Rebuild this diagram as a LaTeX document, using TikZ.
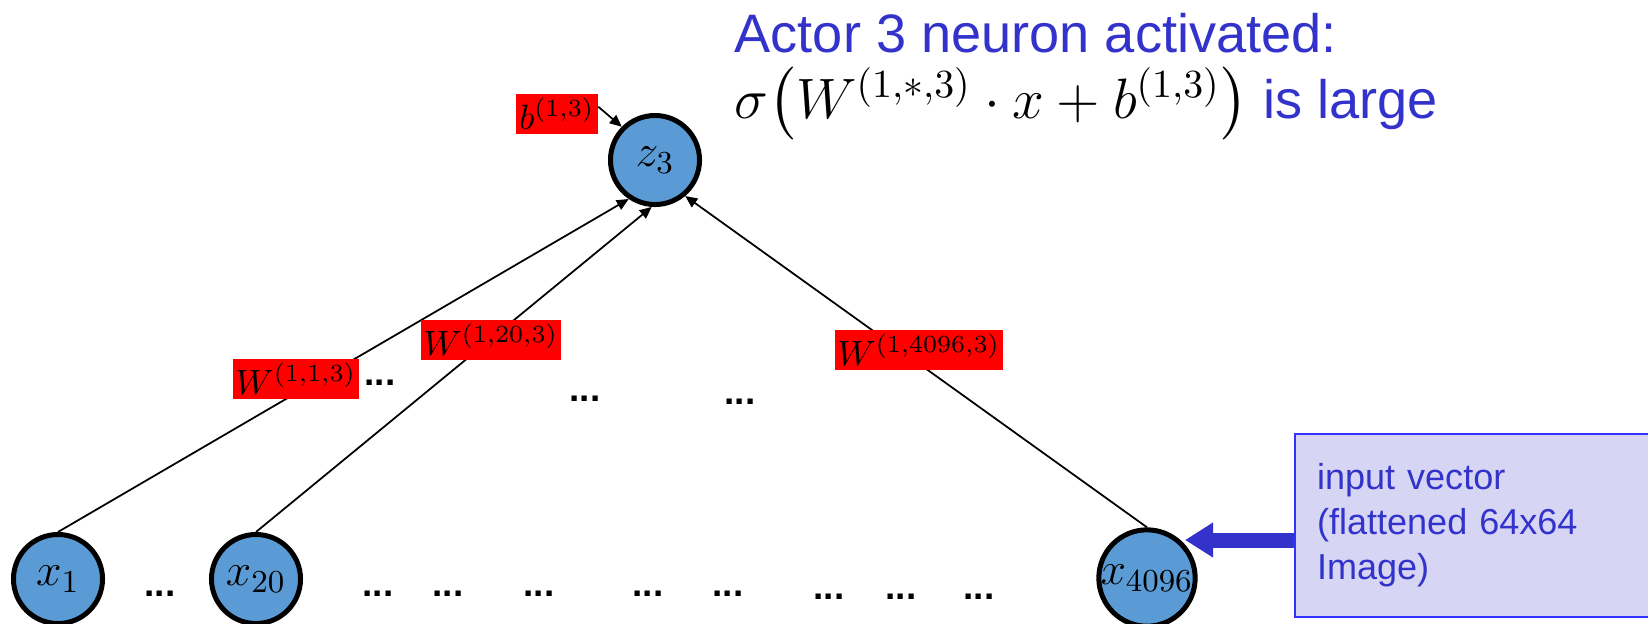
\RequirePackage{fix-cm}
\documentclass[tikz,border=0pt]{standalone}
\usepackage{amsmath}
\usepackage[no-math]{fontspec}
\setmainfont{Liberation Sans}
\usetikzlibrary{arrows.meta}
\definecolor{neuronblue}{RGB}{91,155,213}
\definecolor{inkblue}{RGB}{51,51,204}
\definecolor{notefill}{RGB}{214,214,244}
\definecolor{noteline}{RGB}{51,51,255}
\tikzset{
  neuron/.style={
    shape = circle,
    draw,
    fill = neuronblue,
    line width = 0.05cm,
    minimum size = 0.89cm,
    inner sep = 0,
    font = \fontsize{13}{15}\selectfont
  },
  weight/.style={
    fill = red,
    inner xsep = 0.03cm,
    inner ysep = 0,
    minimum height = 0.4cm,
    font = \fontsize{10}{12}\selectfont
  },
  edge/.style={
    line width = 0.5pt,
    -{Triangle[length=3.4pt,width=3pt]}
  },
  etc/.style={
    inner sep = 0,
    font = \fontsize{10.5}{12}\selectfont\bfseries
  },
  headline/.style={
    inner sep = 0,
    anchor = base west,
    text = inkblue,
    font = \fontsize{15.4}{18}\selectfont
  },
  note/.style={
    draw = noteline,
    fill = notefill,
    line width = 0.02cm,
    anchor = north west,
    minimum height = 1.83cm,
    text width = 3.26cm,
    inner xsep = 0.22cm,
    align = left,
    text = inkblue,
    font = \fontsize{10.25}{12.8}\selectfont
  },
  feed/.style={
    draw = inkblue,
    line width = 0.15cm,
    -{Triangle[length=0.28cm,width=0.33cm]}
  }
}

\begin{document}
\begin{tikzpicture}[x=0.01cm,y=-0.01cm]
            \useasboundingbox (0,0) rectangle (1648,623);
            \node[neuron] (x1) at (58,579) {$x_1$};
            \node[neuron] (x20) at (256,579) {$x_{20}$};
            \node[neuron] (x4096) at (1147,578) {$x_{4096}$};
            \node[neuron] (z3) at (655,160) {$z_3$};
            \draw[edge] (x1.north) -- (z3.236);
            \draw[edge] (x20.north) -- (z3.266);
            \draw[edge] (x4096.north) -- (z3.310);
            \node[weight] (w1) at (296,379) {$W^{(1,1,3)}$};
            \node[weight] (w20) at (491,340) {$W^{(1,20,3)}$};
            \node[weight] (w4096) at (919,350) {$W^{(1,4096,3)}$};
            \node[weight] (b) at (557,114) {$b^{(1,3)}$};
            \draw[edge] (b.10) -- (z3.135);
            \foreach \px/\py [count=\i] in {380/383, 585/399, 740/402, 160/594, 378/594,
                448/594, 539/594, 648/594, 728/594, 829/597, 901/597, 979/597}
              {\node[etc] (d\i) at (\px,\py) {...};}
            \node[headline] (head) at (734,52) {Actor 3 neuron activated:};
            \node[headline] (formula) at (734,118)
              {{\fontsize{16.2}{18}\selectfont\color{black}$\sigma\bigl(W^{(1,*,3)}\cdot x+b^{(1,3)}\bigr)$} is large};
            \node[note] (inp) at (1294,433) {input vector\\(flattened 64x64\\Image)};
            \coordinate (tip) at (1185,540);
            \draw[feed] (inp.west |- tip) -- (tip);
\end{tikzpicture}
\end{document}
